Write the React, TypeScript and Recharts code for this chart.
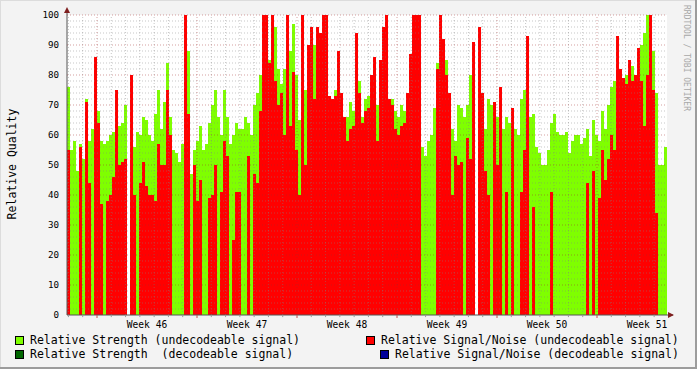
import { BarChart, Bar, XAxis, YAxis, CartesianGrid, ReferenceLine, ReferenceDot } from "recharts";

// Relative Strength (undecodeable) — one value per 3px column
const strength: (number | null)[] = [
  76, 55, 58, 48, 57, 52, 72, 58, 62, 66, 68, 58, 57, 58, 60, 61, 64, 63, 64, 70,
  null, 66, 56, 61, 60, 66, 65, 60, 58, 67, 75, 62, 71, 84, 66, 55, 54, 51, 57, 85,
  88, 47, 55, 58, 63, 55, 57, 64, 70, 75, 66, 60, 75, 66, 57, 60, 64, 62, 62, 66,
  64, 60, 70, 74, 80, 90, 90, 85, 95, 96, 82, 77, 82, 81, 88, 97, 80, 65, 70, 75,
  68, 95, 90, 94, 93, 95, 95, 70, 70, 75, 60, 70, 64, 66, 71, 68, 71, 78, 66, 72,
  73, 74, 66, 70, 70, 70, 70, 70, 72, 68, 66, 70, 68, 74, 60, 60, 60, 60, 56, 53,
  58, 60, 69, 84, 90, 90, 85, 72, 62, 58, 70, 69, 66, 70, 80, 86, null, 70, 63, 62,
  72, 70, 70, 66, 52, 62, 66, 64, 67, 62, 60, 72, 75, 70, 66, 67, 56, 54, 50, 50,
  55, 64, 67, 61, 60, 60, 61, 54, 58, 60, 60, 57, 59, 62, 53, 65, 60, 58, 68, 62,
  70, 76, 78, 70, 65, 74, 80, 82, 83, 78, 80, 90, 94, 100, 100, 88, 74, 50, 50, 56,
];

// Relative Signal/Noise (undecodeable), drawn over the strength area
const snr: (number | null)[] = [
  55, 0, 0, 0, 56, 0, 71, 44, 0, 86, 64, 37, 0, 38, 40, 46, 75, 50, 51, 52,
  null, 80, 40, 0, 44, 51, 43, 40, 40, 38, 57, 50, 50, 75, 60, 0, 0, 0, 0, 100,
  67, 0, 50, 38, 45, 0, 0, 39, 40, 50, 0, 41, 58, 53, 0, 25, 41, 41, 0, 0,
  53, 0, 47, 44, 68, 100, 100, 84, 100, 78, 70, 74, 60, 100, 63, 81, 55, 40, 100, 50,
  90, 96, 72, 96, 94, 100, 100, 73, 72, 73, 88, 74, 66, 58, 62, 63, 94, 74, 64, 68,
  69, 80, 86, 58, 85, 96, 100, 72, 70, 62, 60, 63, 64, 74, 87, 100, 100, 100, 0, 0,
  0, 0, 0, 82, 100, 92, 80, 74, 40, 53, 50, 51, 0, 59, 52, 91, null, 96, 74, 48,
  40, 0, 71, 50, 76, 0, 41, 0, 69, 0, 0, 41, 55, 93, 0, 36, 0, 0, 0, 0,
  0, 41, 0, 0, 0, 0, 0, 0, 0, 0, 0, 0, 0, 44, 0, 48, 0, 39, 55, 45,
  52, 60, 55, 93, 82, 79, 77, 85, 78, 80, 89, 78, 63, 80, 100, 75, 34, 0, 0, 0,
];

const weekLabels = ["Week 46", "Week 47", "Week 48", "Week 49", "Week 50", "Week 51"];
const yTicks = [0, 10, 20, 30, 40, 50, 60, 70, 80, 90, 100];

const DAYS = 42; // time span of the graph
const FIRST_WEEK = 2.1; // day offset of the first week boundary

const GREEN = "#7fff00";
const RED = "#ff0000";
const MONO = "'DejaVu Sans Mono', monospace";

const rows = strength.map((g, i) => ({ i, g, r: snr[i] }));
const N = rows.length;
const perDay = N / DAYS; // columns per day
const weekStarts = weekLabels.map((_, k) => (FIRST_WEEK + 7 * k) * perDay);
const weekMids = weekLabels.map((_, k) => (FIRST_WEEK + 3.5 + 7 * k) * perDay);
const dayLines = Array.from({ length: DAYS }, (_, k) => (FIRST_WEEK - 2 + k) * perDay).filter(
  (d) => !weekStarts.some((w) => Math.abs(w - d) < 0.01)
);
const minorY = Array.from({ length: 50 }, (_, k) => k * 2 + 2).filter((v) => v % 10 !== 0);
const majorY = yTicks.slice(1);

const MINOR = { stroke: "#808080", strokeOpacity: 0.45, strokeDasharray: "1 2" };
const MAJOR = { stroke: "#a02828", strokeOpacity: 0.45, strokeDasharray: "1 2" };

const MARGIN = { top: 15, right: 30, bottom: 24, left: 0 };

const Arrow = ({ cx, cy, dir }: { cx?: number; cy?: number; dir: "up" | "right" }) => {
  if (cx == null || cy == null) return null;
  if (dir === "up")
    return (
      <g>
        <line x1={cx} y1={cy} x2={cx} y2={cy - 6} stroke="#555" />
        <polygon points={`${cx - 3},${cy - 2} ${cx + 3},${cy - 2} ${cx},${cy - 8}`} fill="#7f1f1f" />
      </g>
    );
  return (
    <g>
      <line x1={cx} y1={cy} x2={cx + 6} y2={cy} stroke="#555" />
      <polygon points={`${cx + 1},${cy - 3} ${cx + 1},${cy + 3} ${cx + 7},${cy}`} fill="#7f1f1f" />
    </g>
  );
};

const LegendItem = ({ color, label, left, top }: { color: string; label: string; left: number; top: number }) => (
  <div style={{ position: "absolute", left, top, display: "flex", alignItems: "center", whiteSpace: "pre" }}>
    <span
      style={{
        width: 9,
        height: 9,
        boxSizing: "border-box",
        border: "1px solid #000",
        background: color,
        marginRight: 6,
        display: "inline-block",
      }}
    />
    <span>{label}</span>
  </div>
);

// the time axis, shared by the data chart and the grid overlay
const timeAxis = (hidden: boolean) => (
  <XAxis
    xAxisId="t"
    dataKey="i"
    type="number"
    domain={[0, N]}
    allowDataOverflow
    ticks={weekMids}
    interval={0}
    tickFormatter={(_v: number, idx: number) => weekLabels[idx]}
    tickLine={false}
    tickSize={4}
    tickMargin={2}
    height={30}
    axisLine={hidden ? false : { stroke: "#555" }}
    tick={hidden ? false : { fill: "#000", fontSize: 9.6, fontFamily: MONO }}
  />
);

const valueAxis = (hidden: boolean) => (
  <YAxis
    type="number"
    domain={[0, 100]}
    allowDataOverflow
    ticks={yTicks}
    interval={0}
    width={67}
    tickLine={false}
    tickSize={4}
    tickMargin={4}
    axisLine={hidden ? false : { stroke: "#555" }}
    tick={hidden ? false : { fill: "#000", fontSize: 9.2, fontFamily: MONO }}
  />
);

export default function App() {
  return (
    <div
      style={{
        position: "fixed",
        left: 0,
        top: 0,
        width: 697,
        height: 369,
        background: "#f3f3f3",
        boxShadow: "inset -2px -2px 0 #9c9c9c, inset 1px 1px 0 #dcdcdc",
        fontFamily: MONO,
        color: "#000",
        overflow: "hidden",
      }}
    >
      <div style={{ position: "absolute", left: 0, top: 0 }}>
        <BarChart width={697} height={369} data={rows} margin={MARGIN} barCategoryGap={0} barGap={0}>
          {timeAxis(false)}
          <XAxis xAxisId="g" dataKey="i" type="category" hide height={0} />
          <XAxis xAxisId="r" dataKey="i" type="category" hide height={0} />
          {valueAxis(false)}
          <CartesianGrid xAxisId="t" horizontal={false} vertical={false} fill="#ffffff" />
          <Bar xAxisId="g" dataKey="g" fill={GREEN} isAnimationActive={false} />
          <Bar xAxisId="r" dataKey="r" fill={RED} isAnimationActive={false} />
        </BarChart>
      </div>

      {/* grid drawn over the data, as rrdtool does */}
      <div style={{ position: "absolute", left: 0, top: 0 }}>
        <BarChart width={697} height={369} data={rows} margin={MARGIN} barCategoryGap={0}>
          {timeAxis(true)}
          <XAxis xAxisId="g" dataKey="i" type="category" hide height={0} />
          {valueAxis(true)}
          <Bar xAxisId="g" dataKey="g" fill="none" fillOpacity={0} isAnimationActive={false} />
          {minorY.map((v) => (
            <ReferenceLine key={`my${v}`} xAxisId="t" y={v} {...MINOR} />
          ))}
          {dayLines.map((d) => (
            <ReferenceLine key={`mx${d}`} xAxisId="t" x={d} {...MINOR} />
          ))}
          {majorY.map((v) => (
            <ReferenceLine key={`My${v}`} xAxisId="t" y={v} {...MAJOR} />
          ))}
          {weekStarts.map((d) => (
            <ReferenceLine key={`Mx${d}`} xAxisId="t" x={d} {...MAJOR} />
          ))}
          {dayLines.map((d) => (
            <ReferenceLine
              key={`tx${d}`}
              xAxisId="t"
              segment={[{ x: d, y: 0 }, { x: d, y: -0.7 }]}
              ifOverflow="visible"
              stroke="#999"
            />
          ))}
          {weekStarts.map((d) => (
            <ReferenceLine
              key={`Tx${d}`}
              xAxisId="t"
              segment={[{ x: d, y: 0 }, { x: d, y: -1 }]}
              ifOverflow="visible"
              stroke="#c05050"
            />
          ))}
          <ReferenceDot xAxisId="t" x={0} y={100} ifOverflow="visible" shape={(p: any) => <Arrow {...p} dir="up" />} />
          <ReferenceDot xAxisId="t" x={N} y={0} ifOverflow="visible" shape={(p: any) => <Arrow {...p} dir="right" />} />
        </BarChart>
      </div>

      <div
        style={{
          position: "absolute",
          left: -88,
          top: 157,
          width: 200,
          textAlign: "center",
          fontSize: 11.5,
          lineHeight: "14px",
          transform: "rotate(-90deg)",
        }}
      >
        Relative Quality
      </div>
      <div
        style={{
          position: "absolute",
          left: 626,
          top: 53,
          width: 120,
          textAlign: "center",
          fontSize: 8,
          lineHeight: "10px",
          color: "#a8a8a8",
          transform: "rotate(90deg)",
        }}
      >
        RRDTOOL / TOBI OETIKER
      </div>

      <div style={{ fontSize: 11.5, lineHeight: "13px" }}>
        <LegendItem color={GREEN} label="Relative Strength (undecodeable signal)" left={15} top={334} />
        <LegendItem color="#006600" label="Relative Strength  (decodeable signal)" left={15} top={348} />
        <LegendItem color={RED} label="Relative Signal/Noise (undecodeable signal)" left={366} top={334} />
        <LegendItem color="#000099" label="Relative Signal/Noise (decodeable signal)" left={380} top={348} />
      </div>
    </div>
  );
}
